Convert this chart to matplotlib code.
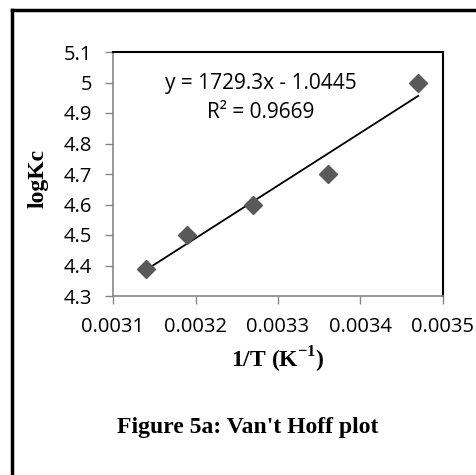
import numpy as np
import matplotlib.pyplot as plt

plt.rcParams['mathtext.fontset'] = 'custom'
plt.rcParams['mathtext.rm'] = 'Liberation Serif:bold'
plt.rcParams['mathtext.bf'] = 'Liberation Serif:bold'

# data
inv_T = [0.00314, 0.00319, 0.00327, 0.00336, 0.00347]
logKc = [4.39, 4.50, 4.60, 4.70, 5.00]
xticks = [0.0031, 0.0032, 0.0033, 0.0034, 0.0035]
yticks = [4.3, 4.4, 4.5, 4.6, 4.7, 4.8, 4.9, 5.0, 5.1]
ytick_labels = ['4.3', '4.4', '4.5', '4.6', '4.7', '4.8', '4.9', '5', '5.1']
xtick_labels = ['0.0031', '0.0032', '0.0033', '0.0034', '0.0035']

sans = 'Open Sans'
serif = 'Liberation Serif'

fig = plt.figure(figsize=(4.77, 4.75), dpi=100)
ax = fig.add_axes([113/477, 1-296/475, 330/477, 244/475])

# linear trendline
m, c = np.polyfit(inv_T, logKc, 1)
xs = np.array([min(inv_T), max(inv_T)])
ax.plot(xs, m*xs + c, 'k-', lw=1.3, zorder=2)
ax.plot(inv_T, logKc, 'D', color='#595959', ms=9.5, mec='#595959', zorder=3)

ax.set_xlim(0.0031, 0.0035)
ax.set_ylim(4.3, 5.1)
ax.set_xticks(xticks)
ax.set_xticklabels(xtick_labels, fontfamily=sans, fontsize=14.5)
ax.set_yticks(yticks)
ax.set_yticklabels(ytick_labels, fontfamily=sans, fontsize=14.5)
ax.tick_params(direction='out', length=6, width=1, color='#868686', pad=9)

for s in ['left', 'bottom']:
    ax.spines[s].set_color('#868686')
    ax.spines[s].set_linewidth(1.2)
for s in ['right', 'top']:
    ax.spines[s].set_color('black')
    ax.spines[s].set_linewidth(1.5)

fig.text(261/477, 1-84/475, 'y = 1729.3x - 1.0445', ha='center', va='center',
         fontfamily=sans, fontsize=15)
fig.text(261/477, 1-112/475, 'R² = 0.9669', ha='center', va='center',
         fontfamily=sans, fontsize=15)

fig.text(278/477, 1-360/475, r'1/T (K$^{-1}$)', ha='center', va='center',
         fontfamily=serif, fontweight='bold', fontsize=17)
fig.text(38/477, 1-178/475, 'logKc', ha='center', va='center', rotation=90,
         fontfamily=serif, fontweight='bold', fontsize=17)
fig.text(248/477, 1-427/475, "Figure 5a: Van't Hoff plot", ha='center', va='center',
         fontfamily=serif, fontweight='bold', fontsize=17)

# outer frame, open on right and bottom
fig.add_artist(plt.Line2D([12/477, 12/477], [0, 1-10/475], color='black', lw=2.5,
                          transform=fig.transFigure))
fig.add_artist(plt.Line2D([12/477, 1], [1-10/475, 1-10/475], color='black', lw=2.5,
                          transform=fig.transFigure))

fig.savefig('out.png', dpi=100)
